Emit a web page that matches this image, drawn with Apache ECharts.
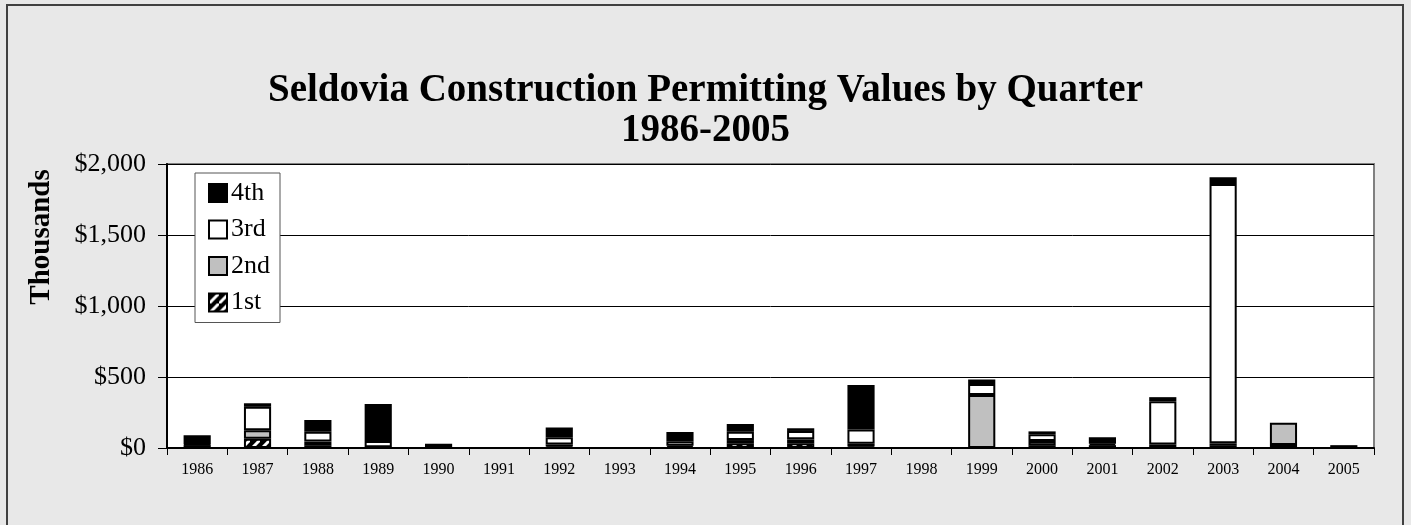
<!DOCTYPE html>
<html>
<head>
<meta charset="utf-8">
<script src="https://cdn.jsdelivr.net/npm/echarts@6/dist/echarts.min.js"></script>
<style>
html, body { margin: 0; padding: 0; background: #e8e8e8; }
#chart { width: 1411px; height: 525px; }
</style>
</head>
<body>
<div id="chart"></div>
<script>
var years = ['1986', '1987', '1988', '1989', '1990', '1991', '1992', '1993', '1994', '1995',
             '1996', '1997', '1998', '1999', '2000', '2001', '2002', '2003', '2004', '2005'];
// values in thousands of dollars
var q1 = [5, 65, 20, 0, 0, 0, 10, 0, 5, 33, 33, 10, 0, 0, 20, 5, 5, 15, 22, 5];
var q2 = [15, 60, 25, 5, 0, 0, 15, 0, 10, 23, 28, 20, 0, 373, 30, 15, 20, 18, 155, 0];
var q3 = [5, 165, 70, 45, 5, 0, 50, 0, 33, 59, 59, 100, 0, 77, 47, 10, 305, 1826, 0, 0];
var q4 = [65, 25, 82, 260, 25, 0, 70, 0, 65, 54, 19, 314, 0, 33, 20, 45, 28, 47, 0, 15];
var yTicks = [0, 500, 1000, 1500, 2000];

var serif = 'Liberation Serif';

// hatched fill for the 1st quarter
var hatch = document.createElement('canvas');
hatch.width = 10; hatch.height = 10;
var hc = hatch.getContext('2d');
hc.fillStyle = '#000';
hc.fillRect(0, 0, 10, 10);
hc.strokeStyle = '#fff';
hc.lineWidth = 3;
hc.beginPath();
hc.moveTo(-2, 12); hc.lineTo(12, -2);
hc.stroke();

function clean(arr) {
  return arr.map(function (v) { return v ? v : null; });
}

function bar(name, data, fill) {
  return {
    name: name,
    type: 'bar',
    stack: 'q',
    barWidth: '45%',
    data: clean(data),
    itemStyle: { color: fill, borderColor: '#000', borderWidth: 2 }
  };
}

var chart = echarts.init(document.getElementById('chart'));
chart.setOption({
  backgroundColor: '#e8e8e8',
  animation: false,
  title: {
    text: 'Seldovia Construction Permitting Values by Quarter\n1986-2005',
    left: 'center',
    top: 66,
    textStyle: { fontFamily: serif, fontSize: 39, fontWeight: 'bold', color: '#000', lineHeight: 40 }
  },
  graphic: [
    {
      type: 'rect',
      shape: { x: 7, y: 5, width: 1396, height: 540 },
      style: { fill: 'none', stroke: '#404040', lineWidth: 2 },
      silent: true
    },
    {
      type: 'text',
      x: 42, y: 237,
      rotation: Math.PI / 2,
      style: {
        text: 'Thousands', fontFamily: serif, fontSize: 29, fontWeight: 'bold',
        fill: '#000', align: 'center', verticalAlign: 'middle'
      }
    }
  ],
  legend: {
    data: ['4th', '3rd', '2nd', '1st'],
    orient: 'vertical',
    left: 195,
    top: 173,
    padding: [7, 10, 7, 13],
    itemGap: 10.5,
    itemWidth: 18,
    itemHeight: 18,
    icon: 'rect',
    backgroundColor: '#fff',
    borderColor: '#555',
    borderWidth: 1,
    textStyle: { fontFamily: serif, fontSize: 26, color: '#000', padding: [0, 0, 0, -1] }
  },
  grid: {
    left: 167, right: 37, top: 164, bottom: 77,
    show: true, backgroundColor: '#fff', borderColor: '#808080', borderWidth: 2
  },
  xAxis: {
    type: 'category',
    data: years,
    axisLine: { lineStyle: { color: '#000', width: 2 } },
    axisTick: { show: true, length: 7, lineStyle: { color: '#000' } },
    axisLabel: { fontFamily: serif, fontSize: 16, color: '#000', margin: 14 }
  },
  yAxis: {
    type: 'value',
    min: yTicks[0],
    max: yTicks[yTicks.length - 1],
    interval: 500,
    axisLine: { show: true, lineStyle: { color: '#000', width: 2 } },
    axisTick: { show: true, inside: false, length: 9, lineStyle: { color: '#000' } },
    splitLine: { lineStyle: { color: '#000', width: 1 } },
    axisLabel: {
      fontFamily: serif, fontSize: 26, color: '#000', margin: 21,
      formatter: function (v) { return '$' + v.toLocaleString('en-US'); }
    }
  },
  series: [
    bar('1st', q1, { image: hatch, repeat: 'repeat' }),
    bar('2nd', q2, '#c0c0c0'),
    bar('3rd', q3, '#fff'),
    bar('4th', q4, '#000')
  ]
});
</script>
</body>
</html>
